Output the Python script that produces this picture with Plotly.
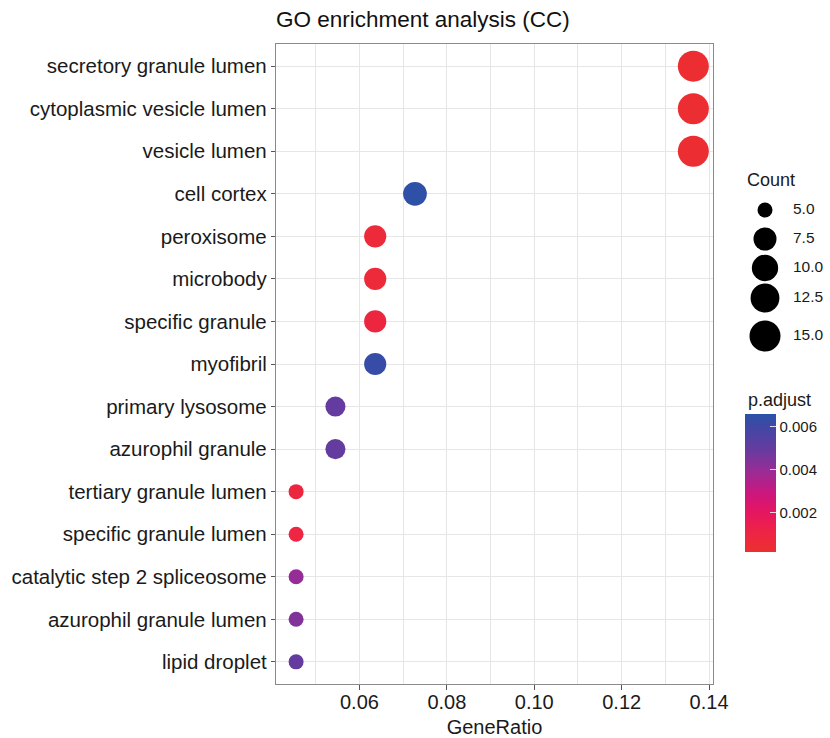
import math
import plotly.graph_objects as go

# ---------------- data ----------------
terms = [
    "secretory granule lumen", "cytoplasmic vesicle lumen", "vesicle lumen",
    "cell cortex", "peroxisome", "microbody", "specific granule", "myofibril",
    "primary lysosome", "azurophil granule", "tertiary granule lumen",
    "specific granule lumen", "catalytic step 2 spliceosome",
    "azurophil granule lumen", "lipid droplet",
]
gene_ratio = [0.1364, 0.1364, 0.1364, 0.0727, 0.0636, 0.0636, 0.0636, 0.0636,
              0.0545, 0.0545, 0.0455, 0.0455, 0.0455, 0.0455, 0.0455]
counts = [15, 15, 15, 8, 7, 7, 7, 7, 6, 6, 5, 5, 5, 5, 5]
p_adjust = [0.0003, 0.0003, 0.0003, 0.0065, 0.0006, 0.0006, 0.0009, 0.0063,
            0.0050, 0.0050, 0.0009, 0.0010, 0.0040, 0.0044, 0.0050]

x_ticks = [0.06, 0.08, 0.10, 0.12, 0.14]
size_legend_values = [5.0, 7.5, 10.0, 12.5, 15.0]
cbar_ticks = [0.002, 0.004, 0.006]
p_limits = [0.00018, 0.0066]

# colour ramp (low p.adjust = red, high = blue)
colorscale = [
    [0.00, "rgb(236,48,48)"],
    [0.15, "rgb(238,35,70)"],
    [0.283, "rgb(230,22,95)"],
    [0.42, "rgb(205,22,125)"],
    [0.594, "rgb(150,45,150)"],
    [0.75, "rgb(100,60,160)"],
    [0.92, "rgb(62,72,165)"],
    [1.00, "rgb(42,82,168)"],
]

SMIN, SMAX = 15.0, 31.0  # marker diameter range (px), area-style scale
cmin_count, cmax_count = min(counts), max(counts)


def size_of(c):
    return SMIN + (SMAX - SMIN) * math.sqrt((c - cmin_count) / (cmax_count - cmin_count))


FONT = "Arial, Liberation Sans, sans-serif"
TXT = "#1a1a1a"
GRID = "#e6e6e6"
NBSP = "\u00a0"

# ---------------- layout geometry ----------------
W, H = 830, 738
ML, MT = 276, 44
PLOT_RIGHT, PLOT_BOTTOM = 713, 684
MB = H - PLOT_BOTTOM
plot_w = W - ML
plot_h = H - MT - MB


def px(xw):
    return (xw - ML) / plot_w


def py(yw):
    return (MT + plot_h - yw) / plot_h


fig = go.Figure()

fig.add_trace(go.Scatter(
    x=gene_ratio, y=terms, mode="markers",
    marker=dict(
        size=[size_of(c) for c in counts], sizemode="diameter",
        color=p_adjust, colorscale=colorscale, cmin=p_limits[0], cmax=p_limits[1],
        line=dict(width=0), opacity=1,
        colorbar=dict(
            title=dict(text=""),
            x=px(745), xanchor="left", xref="paper",
            y=py(483), yanchor="middle", yref="paper",
            len=138, lenmode="pixels", thickness=31,
            tickvals=cbar_ticks, tickformat=".3f", tickprefix=NBSP,
            ticks="inside", ticklen=6, tickcolor="rgba(255,255,255,0.8)", tickwidth=1,
            tickfont=dict(family=FONT, size=15, color=TXT),
            outlinewidth=0, ypad=0, xpad=0,
        ),
    ),
    showlegend=False, hoverinfo="x+y",
))

# size legend on its own hidden axes
legend_y_px = [210, 239, 268, 298, 336]
fig.add_trace(go.Scatter(
    x=[765] * len(size_legend_values), y=legend_y_px, mode="markers",
    marker=dict(size=[size_of(v) for v in size_legend_values], color="#000000",
                sizemode="diameter", line=dict(width=0), opacity=1),
    xaxis="x2", yaxis="y2", showlegend=False, hoverinfo="skip", cliponaxis=False,
))
fig.add_trace(go.Scatter(
    x=[793] * len(size_legend_values), y=legend_y_px, mode="text",
    text=["%.1f" % v for v in size_legend_values], textposition="middle right",
    textfont=dict(family=FONT, size=15.5, color=TXT),
    xaxis="x2", yaxis="y2", showlegend=False, hoverinfo="skip", cliponaxis=False,
))

fig.update_layout(
    width=W, height=H,
    margin=dict(l=ML, r=0, t=MT, b=MB, autoexpand=False, pad=0),
    paper_bgcolor="white", plot_bgcolor="white",
    font=dict(family=FONT, color=TXT),
    title=dict(text="GO enrichment analysis (CC)", x=ML / W, xanchor="left",
               y=1 - 19 / H, yanchor="middle",
               font=dict(family=FONT, size=22.5, color="#111111")),
    xaxis=dict(
        domain=[0, (PLOT_RIGHT - ML) / plot_w], range=[0.0409, 0.1409],
        tickvals=x_ticks, ticktext=["%.2f" % v for v in x_ticks],
        showgrid=True, gridcolor=GRID, gridwidth=1.3,
        minor=dict(dtick=0.01, tick0=0.05, showgrid=True, gridcolor=GRID,
                   gridwidth=1, ticks=""),
        ticks="outside", ticklen=5, tickcolor="#555555", tickwidth=1,
        ticklabelstandoff=-5,
        tickfont=dict(family=FONT, size=20, color=TXT),
        title=dict(text="GeneRatio", font=dict(family=FONT, size=20, color=TXT),
                   standoff=8),
        showline=True, linecolor="#8a8a8a", linewidth=1.3, mirror=True,
        zeroline=False,
    ),
    yaxis=dict(
        domain=[0, 1], type="category",
        categoryorder="array", categoryarray=terms[::-1],
        range=[-0.52, len(terms) - 1 + 0.52],
        showgrid=True, gridcolor=GRID, gridwidth=1.3,
        ticks="outside", ticklen=4, tickcolor="#555555", tickwidth=1,
        tickfont=dict(family=FONT, size=20.5, color=TXT),
        showline=True, linecolor="#8a8a8a", linewidth=1.3, mirror=True,
        zeroline=False,
    ),
    xaxis2=dict(domain=[px(740), px(830)], range=[740, 830],
                visible=False, fixedrange=True, anchor="y2"),
    yaxis2=dict(domain=[py(352), py(190)], range=[352, 190],
                visible=False, fixedrange=True, anchor="x2"),
    annotations=[
        dict(text="Count", x=px(745), y=py(180), xref="paper", yref="paper",
             xanchor="left", yanchor="middle", showarrow=False,
             font=dict(family=FONT, size=18, color=TXT)),
        dict(text="p.adjust", x=px(746), y=py(400), xref="paper", yref="paper",
             xanchor="left", yanchor="middle", showarrow=False,
             font=dict(family=FONT, size=18, color=TXT)),
    ],
)

fig.write_html(
    "out.html",
    config={"displayModeBar": False},
    post_script="document.body.style.margin='0';document.body.style.overflow='hidden';",
)
